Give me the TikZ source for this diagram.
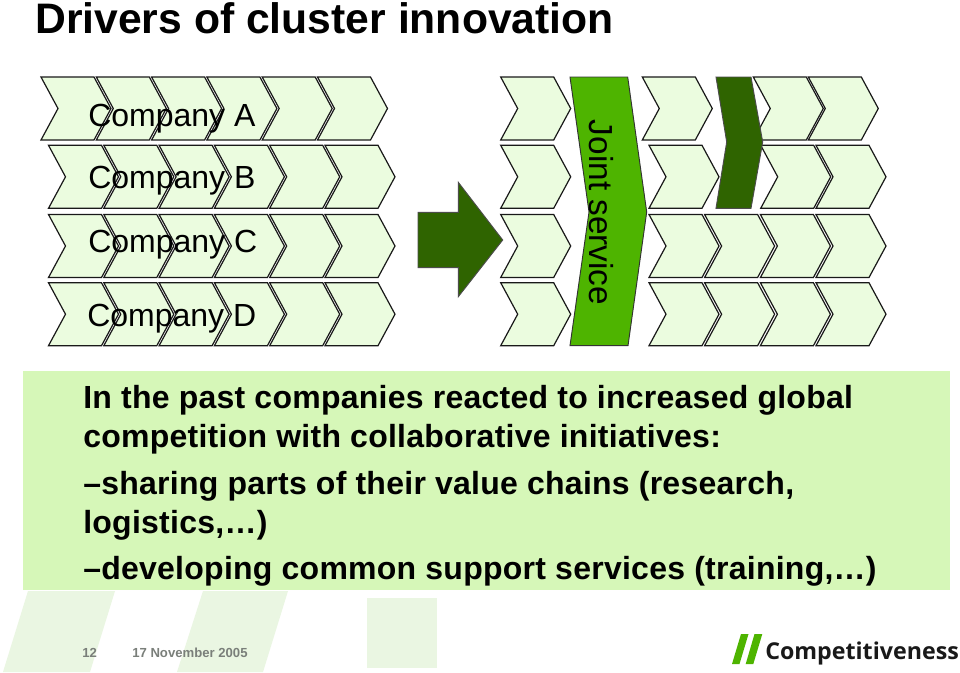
\documentclass[tikz,border=0pt]{standalone}
\usepackage{fontspec}
\setmainfont{Liberation Sans}
\newfontfamily\logofont{Open Sans}
\newfontfamily\bodyfont[LetterSpace=0.8,BoldFont={Liberation Sans Bold}]{Liberation Sans}
\definecolor{chevfill}{HTML}{EBFCDF}
\definecolor{panelfill}{HTML}{D6F7B8}
\definecolor{jointfill}{HTML}{4EB400}
\definecolor{darkfill}{HTML}{2F6400}
\definecolor{footfill}{HTML}{EAF6E2}
\definecolor{footgray}{HTML}{7A7F7A}
\tikzset{
	chevron/.pic={
		\draw[draw=black!90, fill=chevfill, line width=0.9pt, line join=miter]
			(0,0) -- (53,0) -- (70,31.5) -- (53,63) -- (0,63) -- (17,31.5) -- cycle;
	},
	darkshape/.style={draw=black!70, fill=darkfill, line width=0.7pt},
	company/.style={font=\fontsize{24}{28}\selectfont, anchor=base west, inner sep=0pt},
	bodyline/.style={font=\bodyfont\fontsize{24}{28}\selectfont\bfseries, anchor=base west, inner sep=0pt},
	footnote/.style={font=\fontsize{9.85}{12}\selectfont\bfseries, anchor=base west, inner sep=0pt, text=footgray},
	footshape/.style={fill=footfill}
}
\begin{document}
\begin{tikzpicture}[x=0.75pt,y=-0.75pt]
	\useasboundingbox (0,0) rectangle (960,672);
	\fill[white] (0,0) rectangle (960,672);

	% footer background
	\fill[footshape] (28,591) -- (115,591) -- (90,672) -- (3,672) -- cycle;
	\fill[footshape] (203,591) -- (288,591) -- (263,672) -- (177,672) -- cycle;
	\fill[footshape] (367,598) rectangle (437,668);

	\node[anchor=base west, inner sep=0pt, font=\fontsize{32}{36}\selectfont\bfseries] (title) at (35,33) {Drivers of cluster innovation};

	% left chains
	\foreach \n in {0,...,5} {
		\pic at ({41+55.3*\n},77) {chevron};
		\pic at ({48.5+55.3*\n},145.3) {chevron};
		\pic at ({48.5+55.3*\n},214.5) {chevron};
		\pic at ({48.5+55.3*\n},282.7) {chevron};
	}
	\node[company] (compa) at (88,126) {Company A};
	\node[company] (compb) at (88,188) {Company B};
	\node[company] (compc) at (88,252) {Company C};
	\node[company] (compd) at (87,326) {Company D};

	% big arrow
	\draw[darkshape] (418,212.3) -- (458.3,212.3) -- (458.3,182.3) -- (502.7,240) -- (458.3,296.7) -- (458.3,267.7) -- (418,267.7) -- cycle;

	% right chains
	\foreach \y in {77,145.3,214.5,282.7} {
		\pic at (500.7,\y) {chevron};
	}
	\pic at (642.3,77) {chevron};
	\pic at (753.3,77) {chevron};
	\pic at (808.3,77) {chevron};
	\pic at (649,145.3) {chevron};
	\pic at (760.7,145.3) {chevron};
	\pic at (816,145.3) {chevron};
	\foreach \y in {214.5,282.7} {
		\foreach \x in {649,704.6,760.4,816} {
			\pic at (\x,\y) {chevron};
		}
	}

	% joint service
	\draw[draw=black!80, fill=jointfill, line width=0.7pt] (570,77) -- (627.7,77) -- (646.7,212) -- (628,345.7) -- (570,345.7) -- (589,212) -- cycle;
	\node[rotate=-90, font=\fontsize{25}{28}\selectfont, inner sep=0pt] (joint) at (601,212.5) {Joint service};

	% dark chevron
	\draw[darkshape] (716,77) -- (751,77) -- (762.7,142) -- (751,208.3) -- (716,208.3) -- (726.7,142) -- cycle;

	% text panel
	\fill[panelfill] (23,371) rectangle (950,590);
	\node[bodyline] (line1) at (83,408) {In the past companies reacted to increased global};
	\node[bodyline] (line2) at (83,447) {competition with collaborative initiatives:};
	\node[bodyline] (line3) at (83,494) {–sharing parts of their value chains (research,};
	\node[bodyline] (line4) at (83,533) {logistics,…)};
	\node[bodyline] (line5) at (83,579) {–developing common support services (training,…)};

	% footer
	\node[footnote] (pageno) at (82,657) {12};
	\node[footnote] (date) at (132,657) {17 November 2005};

	% logo
	\fill[jointfill] (741,634) -- (748.5,634) -- (739.5,664) -- (732,664) -- cycle;
	\fill[jointfill] (754.5,634) -- (762.3,634) -- (753.3,664) -- (745.7,664) -- cycle;
	\node[anchor=base west, inner sep=0pt, font=\logofont\fontsize{17.4}{20}\selectfont\bfseries, text=black!90] (logo) at (765,659) {Competitiveness};
\end{tikzpicture}
\end{document}
